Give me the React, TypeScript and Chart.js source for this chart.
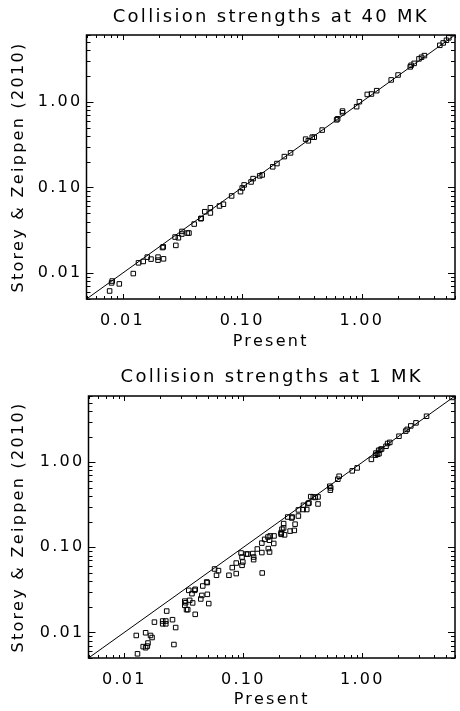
import React, { useEffect, useRef } from 'react';
import { Chart, registerables } from 'chart.js';

Chart.register(...registerables);

// ---- data ----
const AXIS_MIN = 0.005;
const AXIS_MAX = 6;
const majorTickValues = [0.01, 0.1, 1];
const tickLabels = ['0.01', '0.10', '1.00'];
const xAxisTitle = 'Present';
const yAxisTitle = 'Storey & Zeippen (2010)';
const titleTop = 'Collision strengths at 40 MK';
const titleBottom = 'Collision strengths at 1 MK';

const present40 = [0.0078, 0.0081, 0.0082, 0.0094, 0.0123, 0.0136, 0.0149, 0.0161, 0.0173, 0.0198, 0.0198, 0.022, 0.0219, 0.0216, 0.0279, 0.0275, 0.0293, 0.0313, 0.0314, 0.0348, 0.0359, 0.0397, 0.0451, 0.0455, 0.0487, 0.0542, 0.0542, 0.0646, 0.0697, 0.0816, 0.0968, 0.1, 0.1038, 0.1186, 0.1233, 0.14, 0.147, 0.18, 0.195, 0.225, 0.2535, 0.339, 0.357, 0.385, 0.4, 0.466, 0.615, 0.627, 0.689, 0.689, 0.904, 0.953, 1.109, 1.202, 1.33, 1.758, 2.007, 2.536, 2.58, 2.735, 3.0, 3.15, 3.33, 4.48, 4.78, 5.09, 5.33];
const storey40 = [0.0062, 0.0077, 0.0081, 0.0075, 0.0099, 0.0132, 0.0137, 0.0154, 0.0146, 0.0154, 0.0142, 0.0147, 0.0203, 0.0199, 0.0211, 0.0264, 0.0259, 0.0286, 0.0307, 0.0294, 0.0294, 0.0374, 0.0432, 0.0436, 0.0521, 0.058, 0.0504, 0.0608, 0.0637, 0.0796, 0.0893, 0.0987, 0.107, 0.1159, 0.1268, 0.1365, 0.14, 0.174, 0.19, 0.229, 0.253, 0.366, 0.35, 0.386, 0.386, 0.467, 0.615, 0.632, 0.778, 0.743, 0.875, 1.0, 1.216, 1.23, 1.345, 1.795, 2.05, 2.55, 2.66, 2.8, 3.16, 3.3, 3.45, 4.55, 4.85, 5.21, 5.56];

const present1 = [5.66, 3.46, 2.82, 2.55, 2.38, 2.31, 2.03, 1.7, 1.63, 1.58, 1.45, 1.42, 1.37, 1.3, 1.34, 1.29, 1.38, 1.19, 0.904, 0.822, 0.638, 0.622, 0.532, 0.542, 0.538, 0.424, 0.402, 0.387, 0.368, 0.424, 0.356, 0.35, 0.32, 0.318, 0.341, 0.29, 0.29, 0.257, 0.236, 0.255, 0.218, 0.272, 0.268, 0.247, 0.218, 0.211, 0.208, 0.208, 0.208, 0.222, 0.161, 0.168, 0.181, 0.151, 0.166, 0.18, 0.143, 0.131, 0.143, 0.162, 0.166, 0.144, 0.12, 0.122, 0.122, 0.106, 0.109, 0.0957, 0.0975, 0.099, 0.0975, 0.0871, 0.0871, 0.0807, 0.0757, 0.0573, 0.0618, 0.0595, 0.0492, 0.0498, 0.0456, 0.0498, 0.0448, 0.0439, 0.0512, 0.0394, 0.039, 0.037, 0.0348, 0.0354, 0.0375, 0.0394, 0.0322, 0.0327, 0.0322, 0.0333, 0.0341, 0.0227, 0.021, 0.0223, 0.021, 0.0223, 0.0254, 0.027, 0.0179, 0.0126, 0.0151, 0.0166, 0.0171, 0.0158, 0.0156, 0.0144, 0.0151, 0.0261, 0.0129];
const storey1 = [5.77, 3.47, 2.9, 2.67, 2.43, 2.32, 2.02, 1.71, 1.66, 1.54, 1.43, 1.41, 1.38, 1.28, 1.24, 1.21, 1.26, 1.08, 0.857, 0.791, 0.684, 0.631, 0.522, 0.499, 0.469, 0.391, 0.385, 0.391, 0.394, 0.323, 0.332, 0.327, 0.312, 0.278, 0.278, 0.275, 0.233, 0.227, 0.227, 0.221, 0.19, 0.187, 0.158, 0.155, 0.169, 0.163, 0.149, 0.145, 0.142, 0.14, 0.132, 0.136, 0.136, 0.124, 0.121, 0.111, 0.112, 0.0955, 0.0867, 0.0966, 0.088, 0.0499, 0.0844, 0.0769, 0.0716, 0.0833, 0.0833, 0.0857, 0.0769, 0.0671, 0.0614, 0.0653, 0.0491, 0.0577, 0.0469, 0.0556, 0.0532, 0.0469, 0.0391, 0.0385, 0.0351, 0.028, 0.0272, 0.0247, 0.0218, 0.0321, 0.0312, 0.0285, 0.0312, 0.0238, 0.0222, 0.0163, 0.0233, 0.0223, 0.0208, 0.0185, 0.0185, 0.0178, 0.0136, 0.0136, 0.0126, 0.0126, 0.0141, 0.0114, 0.0132, 0.0092, 0.0099, 0.0092, 0.0087, 0.0075, 0.0069, 0.0068, 0.0066, 0.0072, 0.0056];

const FONT = '"DejaVu Sans", sans-serif';
const LETTER_SPACING = '2.3px';

const spacingPlugin = {
  id: 'letterSpacing',
  beforeUpdate(chart: any) {
    chart.ctx.letterSpacing = LETTER_SPACING;
  },
  beforeLayout(chart: any) {
    chart.ctx.letterSpacing = LETTER_SPACING;
  },
  beforeDraw(chart: any) {
    chart.ctx.letterSpacing = LETTER_SPACING;
  },
};

const framePlugin = {
  id: 'idlFrame',
  afterDatasetsDraw(chart: any) {
    const { ctx, chartArea } = chart;
    const { left, right, top, bottom } = chartArea;
    const xs = chart.scales.x;
    const ys = chart.scales.y;
    ctx.save();
    ctx.strokeStyle = '#000';
    ctx.lineWidth = 1.5;
    ctx.strokeRect(left, top, right - left, bottom - top);
    ctx.lineWidth = 1;
    ctx.beginPath();
    for (let e = -3; e <= 1; e++) {
      for (let m = 1; m <= 9; m++) {
        const v = m * Math.pow(10, e);
        if (v < AXIS_MIN || v > AXIS_MAX) continue;
        const major = m === 1;
        const px = Math.round(xs.getPixelForValue(v)) + 0.5;
        const lx = major ? 5 : 3;
        ctx.moveTo(px, bottom);
        ctx.lineTo(px, bottom - lx);
        ctx.moveTo(px, top);
        ctx.lineTo(px, top + lx);
        const py = Math.round(ys.getPixelForValue(v)) + 0.5;
        const ly = major ? 7 : 4;
        ctx.moveTo(left, py);
        ctx.lineTo(left + ly, py);
        ctx.moveTo(right, py);
        ctx.lineTo(right - ly, py);
      }
    }
    ctx.stroke();
    ctx.restore();
  },
};

type PanelProps = {
  title: string;
  xs: number[];
  ys: number[];
  height: number;
  titlePadTop: number;
  titlePadBottom: number;
  yWidth: number;
  xHeight: number;
  xTitlePad: number;
};

function Panel(p: PanelProps) {
  const ref = useRef<HTMLCanvasElement | null>(null);
  useEffect(() => {
    if (!ref.current) return;
    const points = p.xs.map((x, i) => ({ x, y: p.ys[i] }));
    const identity = [AXIS_MIN, AXIS_MAX].map((v) => ({ x: v, y: v }));
    const tickFont = { family: FONT, size: 16, weight: 'normal' as const };
    const chart = new Chart(ref.current, {
      type: 'scatter',
      data: {
        datasets: [
          {
            data: identity,
            showLine: true,
            borderColor: '#000',
            borderWidth: 1,
            pointRadius: 0,
          } as any,
          {
            data: points,
            pointStyle: 'rect',
            pointRadius: 3.2,
            borderColor: '#000',
            backgroundColor: 'rgba(0,0,0,0)',
            pointBorderWidth: 1,
          } as any,
        ],
      },
      options: {
        animation: false,
        responsive: false,
        events: [],
        layout: { padding: { left: 0, right: 1, top: 0, bottom: 0 } },
        plugins: {
          legend: { display: false },
          tooltip: { enabled: false },
          title: {
            display: true,
            fullSize: false,
            text: p.title,
            color: '#000',
            font: { family: FONT, size: 18, weight: 'normal' },
            padding: { top: p.titlePadTop, bottom: p.titlePadBottom },
          },
        },
        scales: {
          x: {
            type: 'logarithmic',
            min: AXIS_MIN,
            max: AXIS_MAX,
            border: { display: false },
            grid: { display: false, drawTicks: false },
            afterBuildTicks: (s: any) => {
              s.ticks = majorTickValues.map((v) => ({ value: v }));
            },
            afterFit: (s: any) => {
              s.height = p.xHeight;
            },
            ticks: {
              autoSkip: false,
              maxRotation: 0,
              color: '#000',
              font: tickFont,
              padding: 12,
              callback: (_v: any, i: number) => tickLabels[i],
            },
            title: {
              display: true,
              text: xAxisTitle,
              color: '#000',
              font: tickFont,
              padding: p.xTitlePad,
            },
          },
          y: {
            type: 'logarithmic',
            min: AXIS_MIN,
            max: AXIS_MAX,
            border: { display: false },
            grid: { display: false, drawTicks: false },
            afterBuildTicks: (s: any) => {
              s.ticks = majorTickValues.map((v) => ({ value: v }));
            },
            afterFit: (s: any) => {
              s.width = p.yWidth;
            },
            ticks: {
              autoSkip: false,
              color: '#000',
              font: tickFont,
              padding: 4,
              callback: (_v: any, i: number) => tickLabels[i],
            },
            title: {
              display: true,
              text: yAxisTitle,
              color: '#000',
              font: tickFont,
              padding: 9,
            },
          },
        },
      } as any,
      plugins: [spacingPlugin, framePlugin],
    });
    return () => chart.destroy();
  }, []);
  return <canvas ref={ref} width={460} height={p.height} style={{ display: 'block', width: 460, height: p.height }} />;
}

export default function App() {
  return (
    <div style={{ position: 'absolute', left: 0, top: 0, width: 460, height: 711, background: '#fff' }}>
      <Panel title={titleTop} xs={present40} ys={storey40} height={355} titlePadTop={7} titlePadBottom={6.4} yWidth={86.5} xHeight={56} xTitlePad={3.4} />
      <Panel title={titleBottom} xs={present1} ys={storey1} height={356} titlePadTop={12} titlePadBottom={7.4} yWidth={88.5} xHeight={53} xTitlePad={1.4} />
    </div>
  );
}
